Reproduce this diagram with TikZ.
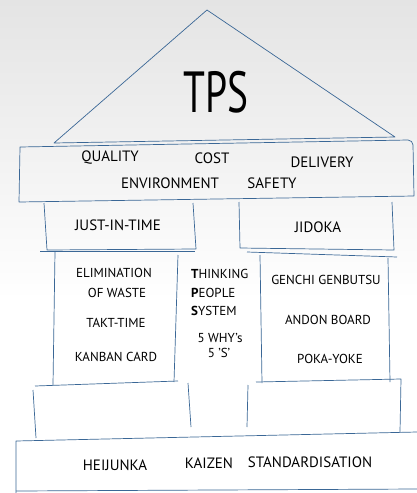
\documentclass[tikz,border=0pt]{standalone}
\usepackage{fontspec}
\setmainfont{PT Sans}
\definecolor{ink}{HTML}{3A6796}
\definecolor{bgtop}{HTML}{E4E4E4}
\begin{document}
\begin{tikzpicture}[x=1pt,y=-1pt,
  edge/.style={draw=ink,line width=0.7pt,line join=round},
  lbl/.style={font=\fontsize{15}{15}\selectfont,text=black,inner sep=0pt},
  slbl/.style={font=\fontsize{13}{13}\selectfont,text=black,inner sep=0pt}]
\useasboundingbox (0,0) rectangle (417,493);
\shade[top color=bgtop,bottom color=white] (0,0) rectangle (417,300);
\fill[white] (0,300) rectangle (417,493);
% roof
\path[edge] (54,143) -- (207,10) -- (395,137) -- cycle;
% band
\path[edge] (20,147) -- (408,140) to[out=0,in=90] (413,145) -- (414,196) -- (19,202) -- cycle;
% JIT / JIDOKA
\path[edge] (44,203) -- (47,250) -- (196,249) -- (193,203);
\path[edge] (239,202) -- (240,248) -- (394,250) -- (392,202);
% pillars
\path[edge] (40,251) -- (195,251);
\path[edge] (55,252) -- (53,385);
\path[edge] (178,255) -- (174,382);
\path[edge] (247,252) -- (397,257);
\path[edge] (260,255) -- (262,383);
\path[edge] (388,258) -- (390,382);
% lower blocks
\path[edge] (35,386) -- (178,381);
\path[edge] (33,390) -- (36,438);
\path[edge] (188,383) -- (191,427);
\path[edge] (256,382) -- (401,379) -- (400,432);
\path[edge] (248,385) -- (247,427);
% base
\path[edge] (417,432) -- (16,441) -- (16,493);
\path[edge] (16,491) -- (417,489);
% texts
\node[font=\fontsize{58}{58}\selectfont,inner sep=0pt,xscale=0.68] (tps) at (216,92) {TPS};
\node[lbl] (q) at (110,158) {QUALITY};
\node[lbl] (c) at (212,158) {COST};
\node[lbl] (d) at (322,162) {DELIVERY};
\node[lbl] (e) at (170,183) {ENVIRONMENT};
\node[lbl] (s) at (272,183) {SAFETY};
\node[lbl] (jit) at (118,225) {JUST-IN-TIME};
\node[lbl] (jid) at (318,227) {JIDOKA};
\node[slbl] (e1) at (114,273) {ELIMINATION};
\node[slbl] (e2) at (117,293) {OF WASTE};
\node[slbl] (tt) at (116,323) {TAKT-TIME};
\node[slbl] (kb) at (116,357) {KANBAN CARD};
\node[slbl,anchor=west] (t1) at (191,274) {\textbf{T}HINKING};
\node[slbl,anchor=west] (t2) at (191,293) {\textbf{P}EOPLE};
\node[slbl,anchor=west] (t3) at (191,311) {\textbf{S}YSTEM};
\node[slbl] (w5) at (220,338) {5 WHY's};
\node[slbl] (s5) at (219,353) {5 'S'};
\node[slbl] (gg) at (326,280) {GENCHI GENBUTSU};
\node[slbl] (ab) at (328,320) {ANDON BOARD};
\node[slbl] (py) at (330,359) {POKA-YOKE};
\node[lbl] (h) at (115,465) {HEIJUNKA};
\node[lbl] (k) at (209,463) {KAIZEN};
\node[lbl] (st) at (310,462) {STANDARDISATION};
\end{tikzpicture}
\end{document}
